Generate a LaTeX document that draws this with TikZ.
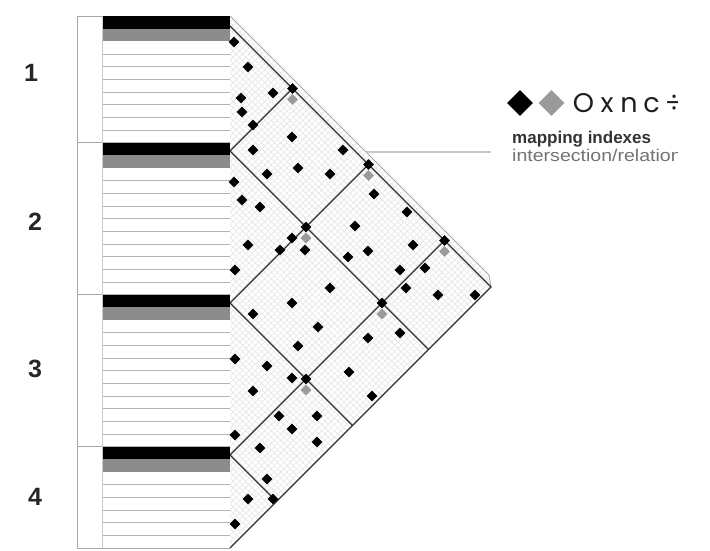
\documentclass[tikz,border=0pt]{standalone}
\usepackage{fontspec}
\setmainfont{Liberation Sans}
\newfontfamily\popp{Poppins}
\usetikzlibrary{shapes.geometric}
\definecolor{bargray}{HTML}{8C8C8C}
\definecolor{mgray}{HTML}{9A9A9A}
\definecolor{gridc}{HTML}{E6E6E6}
\definecolor{rowc}{HTML}{B4B4B4}
\definecolor{framec}{HTML}{A8A8A8}
\begin{document}
\begin{tikzpicture}[x=1pt,y=-1pt,
 mk/.style={shape=diamond,fill=black,inner sep=0pt,minimum size=11pt},
 gmk/.style={mk,fill=mgray},
 cellline/.style={draw=black!82,line width=1.4pt,line join=miter},
 outline/.style={draw=black!45,line width=0.6pt},
 rowline/.style={draw=rowc,line width=0.7pt},
 frameline/.style={draw=framec,line width=0.8pt},
 num/.style={font=\bfseries\fontsize{25}{25}\selectfont,text=black!85},
 sym/.style={font=\popp\fontsize{27}{27}\selectfont,text=black!88,inner sep=0pt,anchor=base}]
\useasboundingbox (0,0) rectangle (710,551);
\fill[white] (0,0) rectangle (710,551);

% key points of the triangle
\coordinate (t0) at (230,16);
\coordinate (tk) at (489,275);
\coordinate (v0) at (230,26);
\coordinate (v1) at (230,151);
\coordinate (v2) at (230,303);
\coordinate (v3) at (230,455);
\coordinate (v4) at (230,548);
\coordinate (p01) at (292.5,88.5);
\coordinate (p02) at (368.5,164.5);
\coordinate (p03) at (444.5,240.5);
\coordinate (p04) at (491,287);
\coordinate (p12) at (306,227);
\coordinate (p13) at (382,303);
\coordinate (p14) at (428.5,349.5);
\coordinate (p23) at (306,379);
\coordinate (p24) at (352.5,425.5);
\coordinate (p34) at (276.5,501.5);
\coordinate (ll) at (366,152);
\coordinate (lr) at (491,152);

% light diagonal grid inside the triangle
\begin{scope}
\clip (t0) -- (tk) -- (p04) -- (v4) -- cycle;
\foreach \k in {-45,...,130} {
  \draw[gridc,line width=0.6pt] (230,{16+6.333*\k}) -- ++(300,300);
  \draw[gridc,line width=0.6pt] (230,{16+6.333*\k}) -- ++(300,-300);
}
\end{scope}

% rows on the left
\foreach \t/\n in {16/10,142.667/12,294.667/12,446.667/8}{
  \foreach \k in {3,...,\n}{\draw[rowline] (103,{\t+12.667*\k}) -- (230,{\t+12.667*\k});}
  \fill[black] (102,\t) rectangle (230,{\t+12.667});
  \fill[bargray] (102,{\t+12.667}) rectangle (230,{\t+25.333});
  \draw[frameline] (77,\t) -- (102,\t);
}
\draw[frameline] (77,16) -- (77,548);
\draw[draw=framec!60,line width=0.8pt] (102,16) -- (102,548);
\draw[frameline] (77,548) -- (230,548);

% block numbers
\node[num] (n1) at (31,73) {1};
\node[num] (n2) at (35,222) {2};
\node[num] (n3) at (35,369) {3};
\node[num] (n4) at (35,497) {4};

% triangle outline and cells
\draw[outline] (t0) -- (tk) -- (p04);
\draw[cellline] (v0) -- (p04) -- (v4);
\draw[cellline] (v1) -- (p14);
\draw[cellline] (v2) -- (p24);
\draw[cellline] (v3) -- (p34);
\draw[cellline] (v1) -- (p01);
\draw[cellline] (v2) -- (p02);
\draw[cellline] (v3) -- (p03);

% legend connector
\draw[draw=black!22,line width=2pt] (ll) -- (lr);

% mapping index markers
\foreach[count=\i] \x/\y in {234/42,248/67,273/93,241/98,242/112,253/125,292/137,253/150,
  298/168,267/174,234/182,242/200,260/207,330/174,343/150,374/194,407/212,355/226,
  292/238,280/250,305/250,248/245,413/245,348/257,368/251,400/270,425/268,235/270,
  330/288,406/288,438/295,475/295,292/303,253/314,318/327,400/333,368/338,298/346,
  349/372,235/359,267/366,292/378,253/391,279/416,317/416,292/429,317/442,235/435,
  260/448,267/479,248/499,273/499,235/524,372/396}
  \node[mk] (m\i) at (\x,\y) {};

% intersections
\foreach \c in {01,02,03,12,13,23}{
  \node[mk] (b\c) at (p\c) {};
  \node[gmk] (g\c) at ([yshift=-11pt]p\c) {};
}

% legend
\node[mk,minimum size=26pt] (lb) at (520,103) {};
\node[gmk,minimum size=26pt] (lg) at (551.5,103) {};
\begin{scope}
\clip (480,0) rectangle (677,551);
\node[sym] (s1) at (583.5,112) {O};
\node[sym] (s2) at (607,112) {x};
\node[sym] (s3) at (629,112) {n};
\node[sym] (s4) at (651.5,112) {c};
\node[sym] (s5) at (674,112) {÷};
\node[anchor=base west,inner sep=0pt,font=\bfseries\fontsize{17}{17}\selectfont,text=black!80] (lt1) at (512,143) {mapping indexes};
\node[anchor=base west,inner sep=0pt,font=\fontsize{17}{17}\selectfont,text=black!55] (lt2) at (512,161) {\scalebox{1.15}[1]{intersection/relation}};
\end{scope}
\end{tikzpicture}
\end{document}
